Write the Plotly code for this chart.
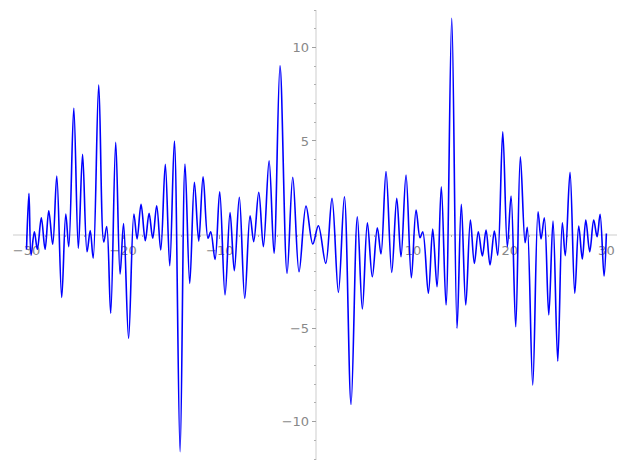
import plotly.graph_objects as go

# local extrema of the curve (x, y)
x_vals = [
    -30.0, -29.75, -29.53, -29.19, -28.88, -28.47, -28.08, -27.70, -27.29, -26.87,
    -26.36, -25.94, -25.63, -25.11, -24.64, -24.20, -23.74, -23.41, -23.10, -22.53,
    -22.01, -21.70, -21.29, -20.77, -20.32, -19.96, -19.44, -18.89, -18.56, -18.15,
    -17.71, -17.32, -16.94, -16.53, -16.11, -15.64, -15.18, -14.70, -14.11, -13.60,
    -13.11, -12.63, -12.18, -11.73, -11.22, -10.94, -10.49, -10.01, -9.46, -8.94,
    -8.50, -7.98, -7.42, -6.87, -6.49, -5.97, -5.49, -4.90, -4.39, -3.77,
    -3.04, -2.45, -1.80, -1.08, -0.38, 0.20, 0.96, 1.61, 2.27, 2.89,
    3.58, 4.23, 4.75, 5.27, 5.78, 6.30, 6.68, 7.20, 7.79, 8.31,
    8.75, 9.27, 9.82, 10.31, 10.72, 11.00, 11.58, 12.03, 12.48, 12.92,
    13.41, 14.00, 14.55, 14.99, 15.45, 15.93, 16.34, 16.75, 17.17, 17.55,
    17.96, 18.41, 18.76, 19.28, 19.75, 20.14, 20.62, 21.10, 21.59, 21.82,
    22.38, 22.93, 23.24, 23.58, 24.04, 24.48, 24.97, 25.44, 25.75, 26.24,
    26.73, 27.14, 27.51, 27.87, 28.28, 28.69, 29.04, 29.35, 29.76, 30.0,
]
y_vals = [
    -0.80, 2.20, -1.10, 0.15, -0.79, 0.90, -0.79, 1.27, -0.52, 3.13,
    -3.36, 1.10, -0.65, 6.75, -0.74, 4.29, -0.92, 0.21, -1.26, 7.99,
    -0.40, 0.42, -4.21, 4.93, -2.11, 0.59, -5.55, 1.10, -0.24, 1.61,
    -0.33, 1.13, -0.20, 1.54, -0.83, 3.75, -1.67, 5.00, -11.61, 3.77,
    -2.61, 2.79, -0.35, 3.09, -0.20, 0.15, -1.33, 2.29, -3.23, 1.17,
    -1.93, 1.99, -3.41, 1.00, -0.38, 2.26, -0.65, 3.94, -1.00, 9.02,
    -2.07, 3.06, -1.99, 1.52, -0.51, 0.47, -1.54, 1.93, -3.09, 2.02,
    -9.08, 0.95, -3.98, 0.63, -2.26, 0.36, -1.04, 3.36, -2.02, 1.93,
    -1.19, 3.18, -2.31, 1.31, -0.17, 0.15, -3.14, 0.29, -2.79, 2.55,
    -3.77, 11.56, -5.01, 1.61, -3.77, 0.77, -1.54, 0.15, -1.15, 0.24,
    -1.63, 0.19, -1.10, 5.49, -0.65, 2.06, -4.93, 4.16, -0.44, 0.38,
    -8.04, 1.22, -0.24, 0.90, -4.30, 0.72, -6.76, 0.63, -1.13, 3.32,
    -3.14, 0.45, -1.31, 0.77, -0.92, 0.77, -0.12, 1.08, -2.22, 0.06,
]

x_ticks = [-30, -20, -10, 10, 20, 30]
y_ticks = [-10, -5, 5, 10]

x_range = [-31.4, 31.1]
y_range = [-12.05, 12.0]

fig = go.Figure()
fig.add_trace(go.Scatter(
    x=x_vals, y=y_vals,
    mode="lines",
    line=dict(color="#0000ff", width=1.6, shape="spline", smoothing=1.0),
    hoverinfo="skip",
))

# axes cross at the origin, like the sage/matplotlib original
x_pos = (0 - y_range[0]) / (y_range[1] - y_range[0])
y_pos = (0 - x_range[0]) / (x_range[1] - x_range[0])

axis_font = dict(family="DejaVu Sans", size=13, color="#888888")

# the page body has an 8px margin, so the figure is 16px smaller than the window
fig.update_layout(
    width=611, height=454,
    paper_bgcolor="white",
    plot_bgcolor="white",
    showlegend=False,
    margin=dict(l=5, r=2, t=2, b=2, autoexpand=False),
    xaxis=dict(
        range=x_range, anchor="free", position=x_pos, automargin=False,
        layer="below traces",
        showgrid=False, zeroline=False,
        showline=True, linecolor="#e6e6e6", linewidth=1.5,
        tickmode="array", tickvals=x_ticks,
        ticks="outside", ticklen=4, tickwidth=1, tickcolor="#a0a0a0",
        minor=dict(tickmode="linear", tick0=0, dtick=2, ticks="outside",
                   ticklen=2, tickcolor="#b0b0b0"),
        tickfont=axis_font,
    ),
    yaxis=dict(
        range=y_range, anchor="free", position=y_pos, automargin=False,
        layer="below traces",
        showgrid=False, zeroline=False,
        showline=True, linecolor="#e6e6e6", linewidth=1.5,
        tickmode="array", tickvals=y_ticks,
        ticks="outside", ticklen=4, tickwidth=1, tickcolor="#a0a0a0",
        minor=dict(tickmode="linear", tick0=0, dtick=1, ticks="outside",
                   ticklen=2, tickcolor="#b0b0b0"),
        tickfont=axis_font,
    ),
)

fig.write_html("out.html")
